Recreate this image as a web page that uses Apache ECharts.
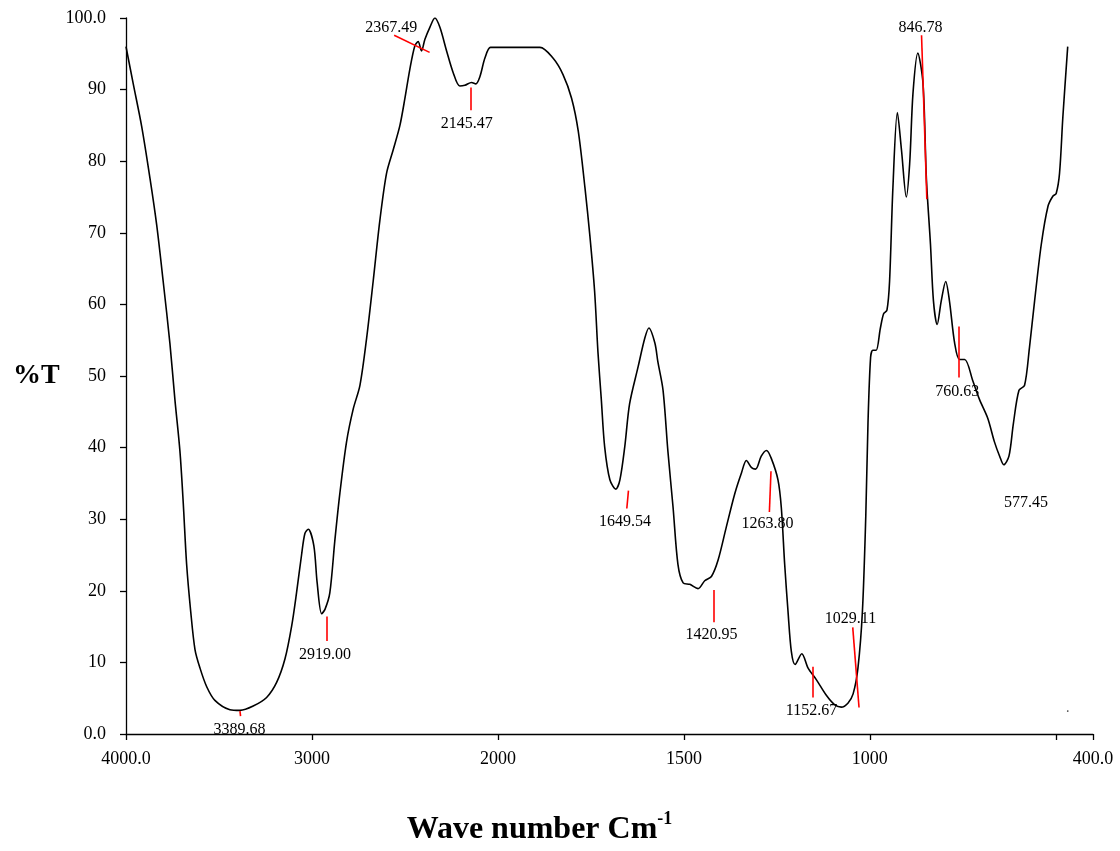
<!DOCTYPE html>
<html>
<head>
<meta charset="utf-8">
<script src="https://cdn.jsdelivr.net/npm/echarts@6/dist/echarts.min.js"></script>
<style>
html,body{margin:0;padding:0;background:#fff;}
#chart{width:1120px;height:851px;}
</style>
</head>
<body>
<div id="chart"></div>
<script>
// Spectrum: wavenumber (cm-1) and transmittance (%T)
const wn = [4000,3961,3916,3871,3835,3800,3764,3737,3710,3692,3674,3652,3629,3602,3566,3522,3441,3387,3316,3244,3190,3145,3109,3083,3056,3038,3020,2990,2972,2948,2930,2904,2877,2850,2814,2778,2742,2706,2671,2635,2599,2563,2527,2500,2474,2447,2429,2411,2393,2366,2339,2312,2276,2241,2205,2178,2142,2119,2097,2070,2040,1995,1887,1852,1825,1802,1784,1766,1753,1740,1731,1722,1713,1699,1683,1672,1659,1646,1623,1605,1594,1578,1570,1556,1543,1529,1516,1502,1484,1462,1444,1426,1408,1386,1363,1345,1332,1318,1307,1292,1278,1265,1247,1238,1229,1220,1211,1201,1183,1166,1144,1117,1095,1077,1059,1045,1032,1020,1011,1005,998,992,983,972,963,954,947,938,926,915,902,893,884,871,857,848,837,829,819,808,796,786,772,759,745,723,705,683,665,651,640,626,614,599,584,571,557,539,521,508,499,490,481,468];
const pctT = [96.0,90.8,84.9,77.6,71.1,63.2,54.6,46.7,39.5,32.2,23.7,17.1,11.8,9.2,6.6,4.7,3.4,3.3,3.9,5.1,7.2,10.5,15.1,19.7,25.0,28.0,28.6,26.3,21.1,16.8,17.4,19.7,27.0,33.6,40.8,45.4,48.7,55.3,63.2,71.7,78.3,81.6,85.0,88.8,92.8,96.1,96.7,95.4,97.0,98.7,100.0,98.7,95.4,92.4,90.5,90.6,91.0,90.8,91.8,94.4,95.9,95.9,95.9,94.4,92.1,88.8,84.2,76.3,69.7,61.8,53.3,46.7,40.1,35.5,34.2,35.5,40.1,46.1,51.3,55.3,56.7,54.6,52.0,48.0,39.5,31.6,23.7,21.1,20.9,20.3,21.4,22.0,24.3,28.9,33.6,36.5,38.2,37.2,37.0,38.8,39.6,38.5,35.5,31.6,23.7,17.1,11.5,9.7,11.2,9.2,7.6,5.4,4.1,3.75,4.3,5.6,9.2,17.1,30.3,43.4,52.6,53.6,53.6,56.6,58.7,59.2,63.2,76.3,86.8,81.6,75.0,79.6,89.5,95.1,90.8,77.6,68.4,60.5,57.2,60.5,63.2,60.5,54.6,52.3,52.3,49.3,46.7,44.1,40.8,38.8,37.6,38.8,43.4,48.0,48.7,53.9,60.5,68.4,73.7,75.1,75.5,78.3,86.2,96.0];

// Axis ticks
const xTickWn = [4000, 3000, 2000, 1500, 1000, 500, 400];
const xTickLabels = ['4000.0', '3000', '2000', '1500', '1000', '', '400.0'];
const yTickLabels = ['0.0','10','20','30','40','50','60','70','80','90','100.0'];

// Peak annotations (text and anchor in data units)
const peakLabels = ['3389.68','2919.00','2367.49','2145.47','1649.54','1420.95','1263.80','1152.67','1029.11','846.78','760.63','577.45'];
const labelWn = [3390, 2930, 2573, 2167, 1658, 1426, 1275, 1157, 1052, 863.5, 765, 580];
const labelT  = [0.6, 11.1, 98.6, 85.2, 29.6, 13.8, 29.3, 3.2, 16.1, 98.6, 47.8, 32.3];

// Red marker lines: start (wn, %T) -> end (wn, %T)
const markFromWn = [3387, 2919, 2558, 2145.5, 1649, 1421, 1265.8, 1152.7, 1046, 861, 760.6];
const markFromT  = [3.2, 16.4, 97.6, 90.3, 34.0, 20.1, 36.7, 9.4, 14.9, 97.6, 56.9];
const markToWn   = [3384, 2919, 2367.5, 2145.5, 1653.5, 1421, 1270.1, 1152.7, 1029.1, 846.8, 760.6];
const markToT    = [2.5, 13.0, 95.2, 87.1, 31.5, 15.6, 31.0, 5.1, 3.7, 74.7, 49.8];

// stray dot seen near the lower right
const dotWn = [468];
const dotT = [3.2];

// split wavenumber scale: 4000-2000 compressed 2x relative to 2000-400
function pos(w) { return w >= 2000 ? (4000 - w) / 2 : 1000 + (2000 - w); }

const xTickPos = xTickWn.map(pos);
const xLabelPos = xTickPos.filter((p, i) => xTickLabels[i] !== '');
const SERIF = '"Liberation Serif", "DejaVu Serif", serif';

const chart = echarts.init(document.getElementById('chart'), null, {renderer: 'canvas'});
chart.setOption({
  animation: false,
  backgroundColor: '#ffffff',
  grid: {left: 126, right: 27, top: 18, bottom: 115, containLabel: false},
  xAxis: {
    type: 'value',
    min: pos(4000), max: pos(400),
    name: '{a|Wave number Cm}{b|-1}',
    nameLocation: 'middle',
    nameGap: 76,
    nameTextStyle: {
      padding: [0, 140, 0, 0],
      rich: {
        a: {fontFamily: SERIF, fontWeight: 'bold', fontSize: 32, color: '#000', verticalAlign: 'bottom', lineHeight: 36},
        b: {fontFamily: SERIF, fontWeight: 'bold', fontSize: 18, color: '#000', verticalAlign: 'top', lineHeight: 36, padding: [0,0,17,0]}
      }
    },
    axisLine: {show: true, onZero: false, lineStyle: {color: '#000', width: 1.3}},
    axisTick: {show: true, inside: false, length: 6, customValues: xTickPos, lineStyle: {color: '#000', width: 1.3}},
    axisLabel: {
      show: true, margin: 16, customValues: xLabelPos,
      fontFamily: SERIF, fontSize: 18, color: '#000',
      formatter: function (v) {
        const i = xTickPos.findIndex(p => Math.abs(p - v) < 1e-6);
        return i >= 0 ? xTickLabels[i] : '';
      }
    },
    splitLine: {show: false}
  },
  yAxis: {
    type: 'value',
    min: 0, max: 100, interval: 10,
    name: '%T',
    nameLocation: 'middle',
    nameRotate: 0,
    nameGap: 66,
    nameTextStyle: {fontFamily: SERIF, fontWeight: 'bold', fontSize: 28, color: '#000', padding: [7, 0, 0, 0]},
    axisLine: {show: true, onZero: false, lineStyle: {color: '#000', width: 1.3}},
    axisTick: {show: true, inside: false, length: 6, lineStyle: {color: '#000', width: 1.3}},
    axisLabel: {
      margin: 20, fontFamily: SERIF, fontSize: 18, color: '#000',
      formatter: function (v) { return yTickLabels[Math.round(v / 10)]; }
    },
    splitLine: {show: false}
  },
  series: [
    {
      type: 'line',
      data: wn.map((w, i) => [pos(w), pctT[i]]),
      showSymbol: false,
      smooth: 0.3,
      silent: true,
      lineStyle: {color: '#000', width: 1.6},
      markLine: {
        silent: true,
        symbol: ['none', 'none'],
        label: {show: false},
        lineStyle: {color: '#ff0000', width: 1.6, type: 'solid'},
        emphasis: {disabled: true},
        data: markFromWn.map((w, i) => [
          {coord: [pos(w), markFromT[i]]},
          {coord: [pos(markToWn[i]), markToT[i]]}
        ])
      }
    },
    {
      type: 'scatter',
      silent: true,
      symbolSize: 0,
      itemStyle: {opacity: 1},
      data: labelWn.map((w, i) => [pos(w), labelT[i], peakLabels[i]]),
      label: {
        show: true, position: 'inside', opacity: 1,
        fontFamily: SERIF, fontSize: 16, color: '#000',
        formatter: function (p) { return p.data[2]; }
      },
      emphasis: {disabled: true}
    },
    {
      type: 'scatter',
      silent: true,
      symbol: 'rect',
      symbolSize: 1.5,
      itemStyle: {color: '#444', opacity: 1},
      data: dotWn.map((w, i) => [pos(w), dotT[i]]),
      emphasis: {disabled: true}
    }
  ]
});
</script>
</body>
</html>
